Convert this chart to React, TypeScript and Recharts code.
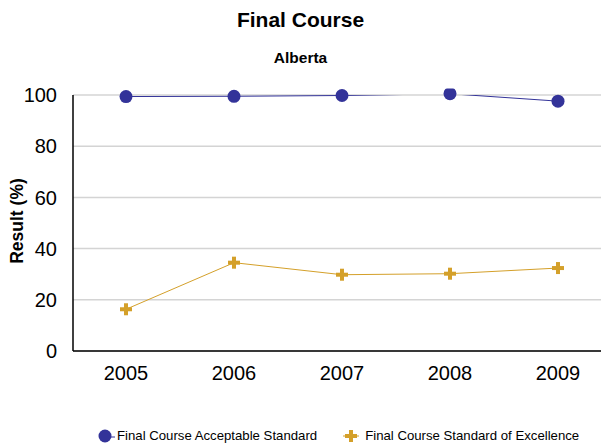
import { LineChart, Line, XAxis, YAxis, CartesianGrid } from "recharts";

const years = ["2005", "2006", "2007", "2008", "2009"];
const acceptable = [99.4, 99.5, 99.8, 100.5, 97.6];
const excellence = [16.3, 34.5, 29.8, 30.2, 32.4];
const yTicks = [0, 20, 40, 60, 80, 100];

const data = years.map((year, i) => ({
  year,
  acceptable: acceptable[i],
  excellence: excellence[i],
}));

const BLUE = "#333399";
const GOLD = "#D4A02A";
const FONT = "'Liberation Sans', Arial, sans-serif";

const PlusDot = (props: any) => {
  const { cx, cy } = props;
  if (cx == null || cy == null) return null;
  return (
    <g>
      <rect x={cx - 6} y={cy - 2} width={12} height={4} fill={GOLD} />
      <rect x={cx - 2} y={cy - 6} width={4} height={12} fill={GOLD} />
    </g>
  );
};

export default function App() {
  return (
    <div
      style={{
        position: "absolute",
        left: 0,
        top: 0,
        width: 601,
        height: 446,
        overflow: "hidden",
        background: "#fff",
        fontFamily: FONT,
      }}
    >
      <div style={{ position: "absolute", top: 8, width: 601, textAlign: "center", fontSize: 21, fontWeight: "bold" }}>
        Final Course
      </div>
      <div style={{ position: "absolute", top: 49, width: 601, textAlign: "center", fontSize: 15.5, fontWeight: "bold" }}>
        Alberta
      </div>
      <div
        style={{
          position: "absolute",
          left: 17,
          top: 221,
          transform: "translate(-50%, -50%) rotate(-90deg)",
          fontSize: 17.5,
          fontWeight: "bold",
          whiteSpace: "nowrap",
        }}
      >
        Result (%)
      </div>
      <div style={{ position: "absolute", left: 0, top: 0 }}>
        <LineChart width={613} height={446} data={data} margin={{ top: 95, right: 0, bottom: 55, left: 0 }}>
          <CartesianGrid horizontal vertical={false} stroke="#d4d4d4" strokeWidth={1.5} />
          <XAxis
            dataKey="year"
            height={40}
            padding={{ left: 53, right: 55 }}
            axisLine={{ stroke: "#000", strokeWidth: 1.5 }}
            tickLine={false}
            tick={{ fill: "#000", fontSize: 20, fontFamily: FONT }}
            tickMargin={9}
          />
          <YAxis
            width={73}
            domain={[0, 100]}
            ticks={yTicks}
            allowDataOverflow
            axisLine={{ stroke: "#000", strokeWidth: 1.5 }}
            tickLine={false}
            tick={{ fill: "#000", fontSize: 20, fontFamily: FONT }}
            tickMargin={10}
          />
          <Line
            dataKey="acceptable"
            stroke={BLUE}
            strokeWidth={1}
            dot={{ r: 6.5, fill: BLUE, stroke: BLUE, strokeWidth: 0, clipDot: false }}
            isAnimationActive={false}
          />
          <Line
            dataKey="excellence"
            stroke={GOLD}
            strokeWidth={1}
            dot={<PlusDot />}
            isAnimationActive={false}
          />
        </LineChart>
      </div>
      <div style={{ position: "absolute", top: 428, left: 97, display: "flex", alignItems: "center", fontSize: 13.2 }}>
        <svg width={18} height={14}>
          <line x1={8} y1={8} x2={18} y2={8} stroke={BLUE} />
          <circle cx={8} cy={7} r={6.5} fill={BLUE} />
        </svg>
        <span style={{ marginLeft: 2 }}>Final Course Acceptable Standard</span>
        <svg width={20} height={14} style={{ marginLeft: 24 }}>
          <line x1={2} y1={7} x2={18} y2={7} stroke={GOLD} />
          <rect x={4} y={5} width={12} height={4} fill={GOLD} />
          <rect x={8} y={1} width={4} height={12} fill={GOLD} />
        </svg>
        <span style={{ marginLeft: 4 }}>Final Course Standard of Excellence</span>
      </div>
    </div>
  );
}
